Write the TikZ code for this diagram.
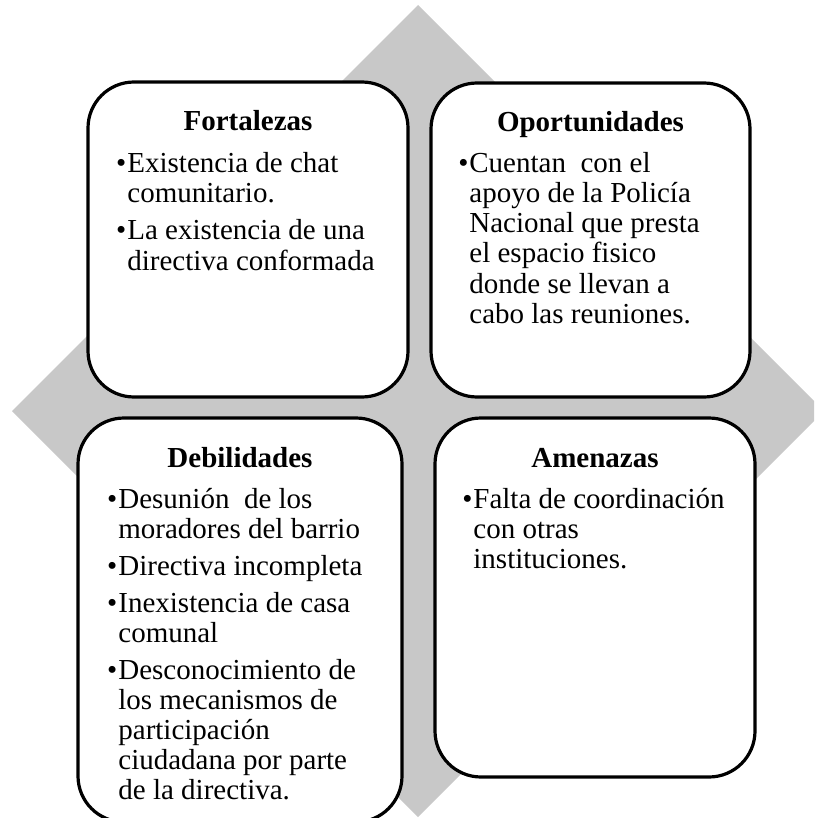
\documentclass[tikz,border=0pt]{standalone}
\usepackage{fontspec}
\setmainfont{Liberation Serif}
\definecolor{gris}{RGB}{200,200,200}
% lines of a box: \vin = line with bullet, \sig = following line
\newcommand{\lista}[1]{\vtop{\baselineskip=15pt\lineskiplimit=-20pt #1}}
\newcommand{\vin}[1]{\hbox{\llap{\textbullet\hspace{0.5pt}}#1}}
\newcommand{\sig}[1]{\hbox{#1}}
\newcommand{\espacio}{\vskip3.5pt}
\begin{document}
\begin{tikzpicture}[x=0.5pt,y=-0.5pt,
  caja/.style={draw=black,line width=1.6pt,rounded corners=23pt,fill=white,outer sep=0pt},
  titulo/.style={font=\fontsize{14.5pt}{15pt}\selectfont\bfseries,inner sep=0pt,anchor=base},
  texto/.style={font=\fontsize{14.5pt}{15pt}\selectfont,inner sep=0pt,anchor=base west}]
\useasboundingbox (0,0) rectangle (814,818);
\clip (0,0) rectangle (814,818);
\fill[gris] (418,5) -- (824,411) -- (418,817) -- (12,411) -- cycle;
\node[caja,minimum width=160pt,minimum height=157.5pt] (F) at (248,239.5) {};
\node[caja,minimum width=159.5pt,minimum height=157pt] (O) at (590.5,240) {};
\node[caja,minimum width=162pt,minimum height=202pt] (D) at (240,620) {};
\node[caja,minimum width=160pt,minimum height=179.5pt] (A) at (595,597.5) {};
\node[titulo] (Ft) at ([yshift=-24.5pt]F.north) {Fortalezas};
\node[texto] (Fl) at ([xshift=19.5pt,yshift=-45.5pt]F.north west) {\lista{%
  \vin{Existencia de chat}\sig{comunitario.}\espacio
  \vin{La existencia de una}\sig{directiva conformada}}};
\node[titulo] (Ot) at ([yshift=-24.5pt]O.north) {Oportunidades};
\node[texto] (Ol) at ([xshift=19pt,yshift=-45pt]O.north west) {\lista{%
  \vin{Cuentan~ con el}\sig{apoyo de la Policía}\sig{Nacional que presta}
  \sig{el espacio fisico}\sig{donde se llevan a}\sig{cabo las reuniones.}}};
\node[titulo] (Dt) at ([yshift=-24.5pt]D.north) {Debilidades};
\node[texto] (Dl) at ([xshift=20pt,yshift=-45pt]D.north west) {\lista{%
  \vin{Desunión~ de los}\sig{moradores del barrio}\espacio
  \vin{Directiva incompleta}\espacio
  \vin{Inexistencia de casa}\sig{comunal}\espacio
  \vin{Desconocimiento de}\sig{los mecanismos de}\sig{participación}
  \sig{ciudadana por parte}\sig{de la directiva.}}};
\node[titulo] (At) at ([yshift=-24.5pt]A.north) {Amenazas};
\node[texto] (Al) at ([xshift=19pt,yshift=-45pt]A.north west) {\lista{%
  \vin{Falta de coordinación}\sig{con otras}\sig{instituciones.}}};
\end{tikzpicture}
\end{document}
